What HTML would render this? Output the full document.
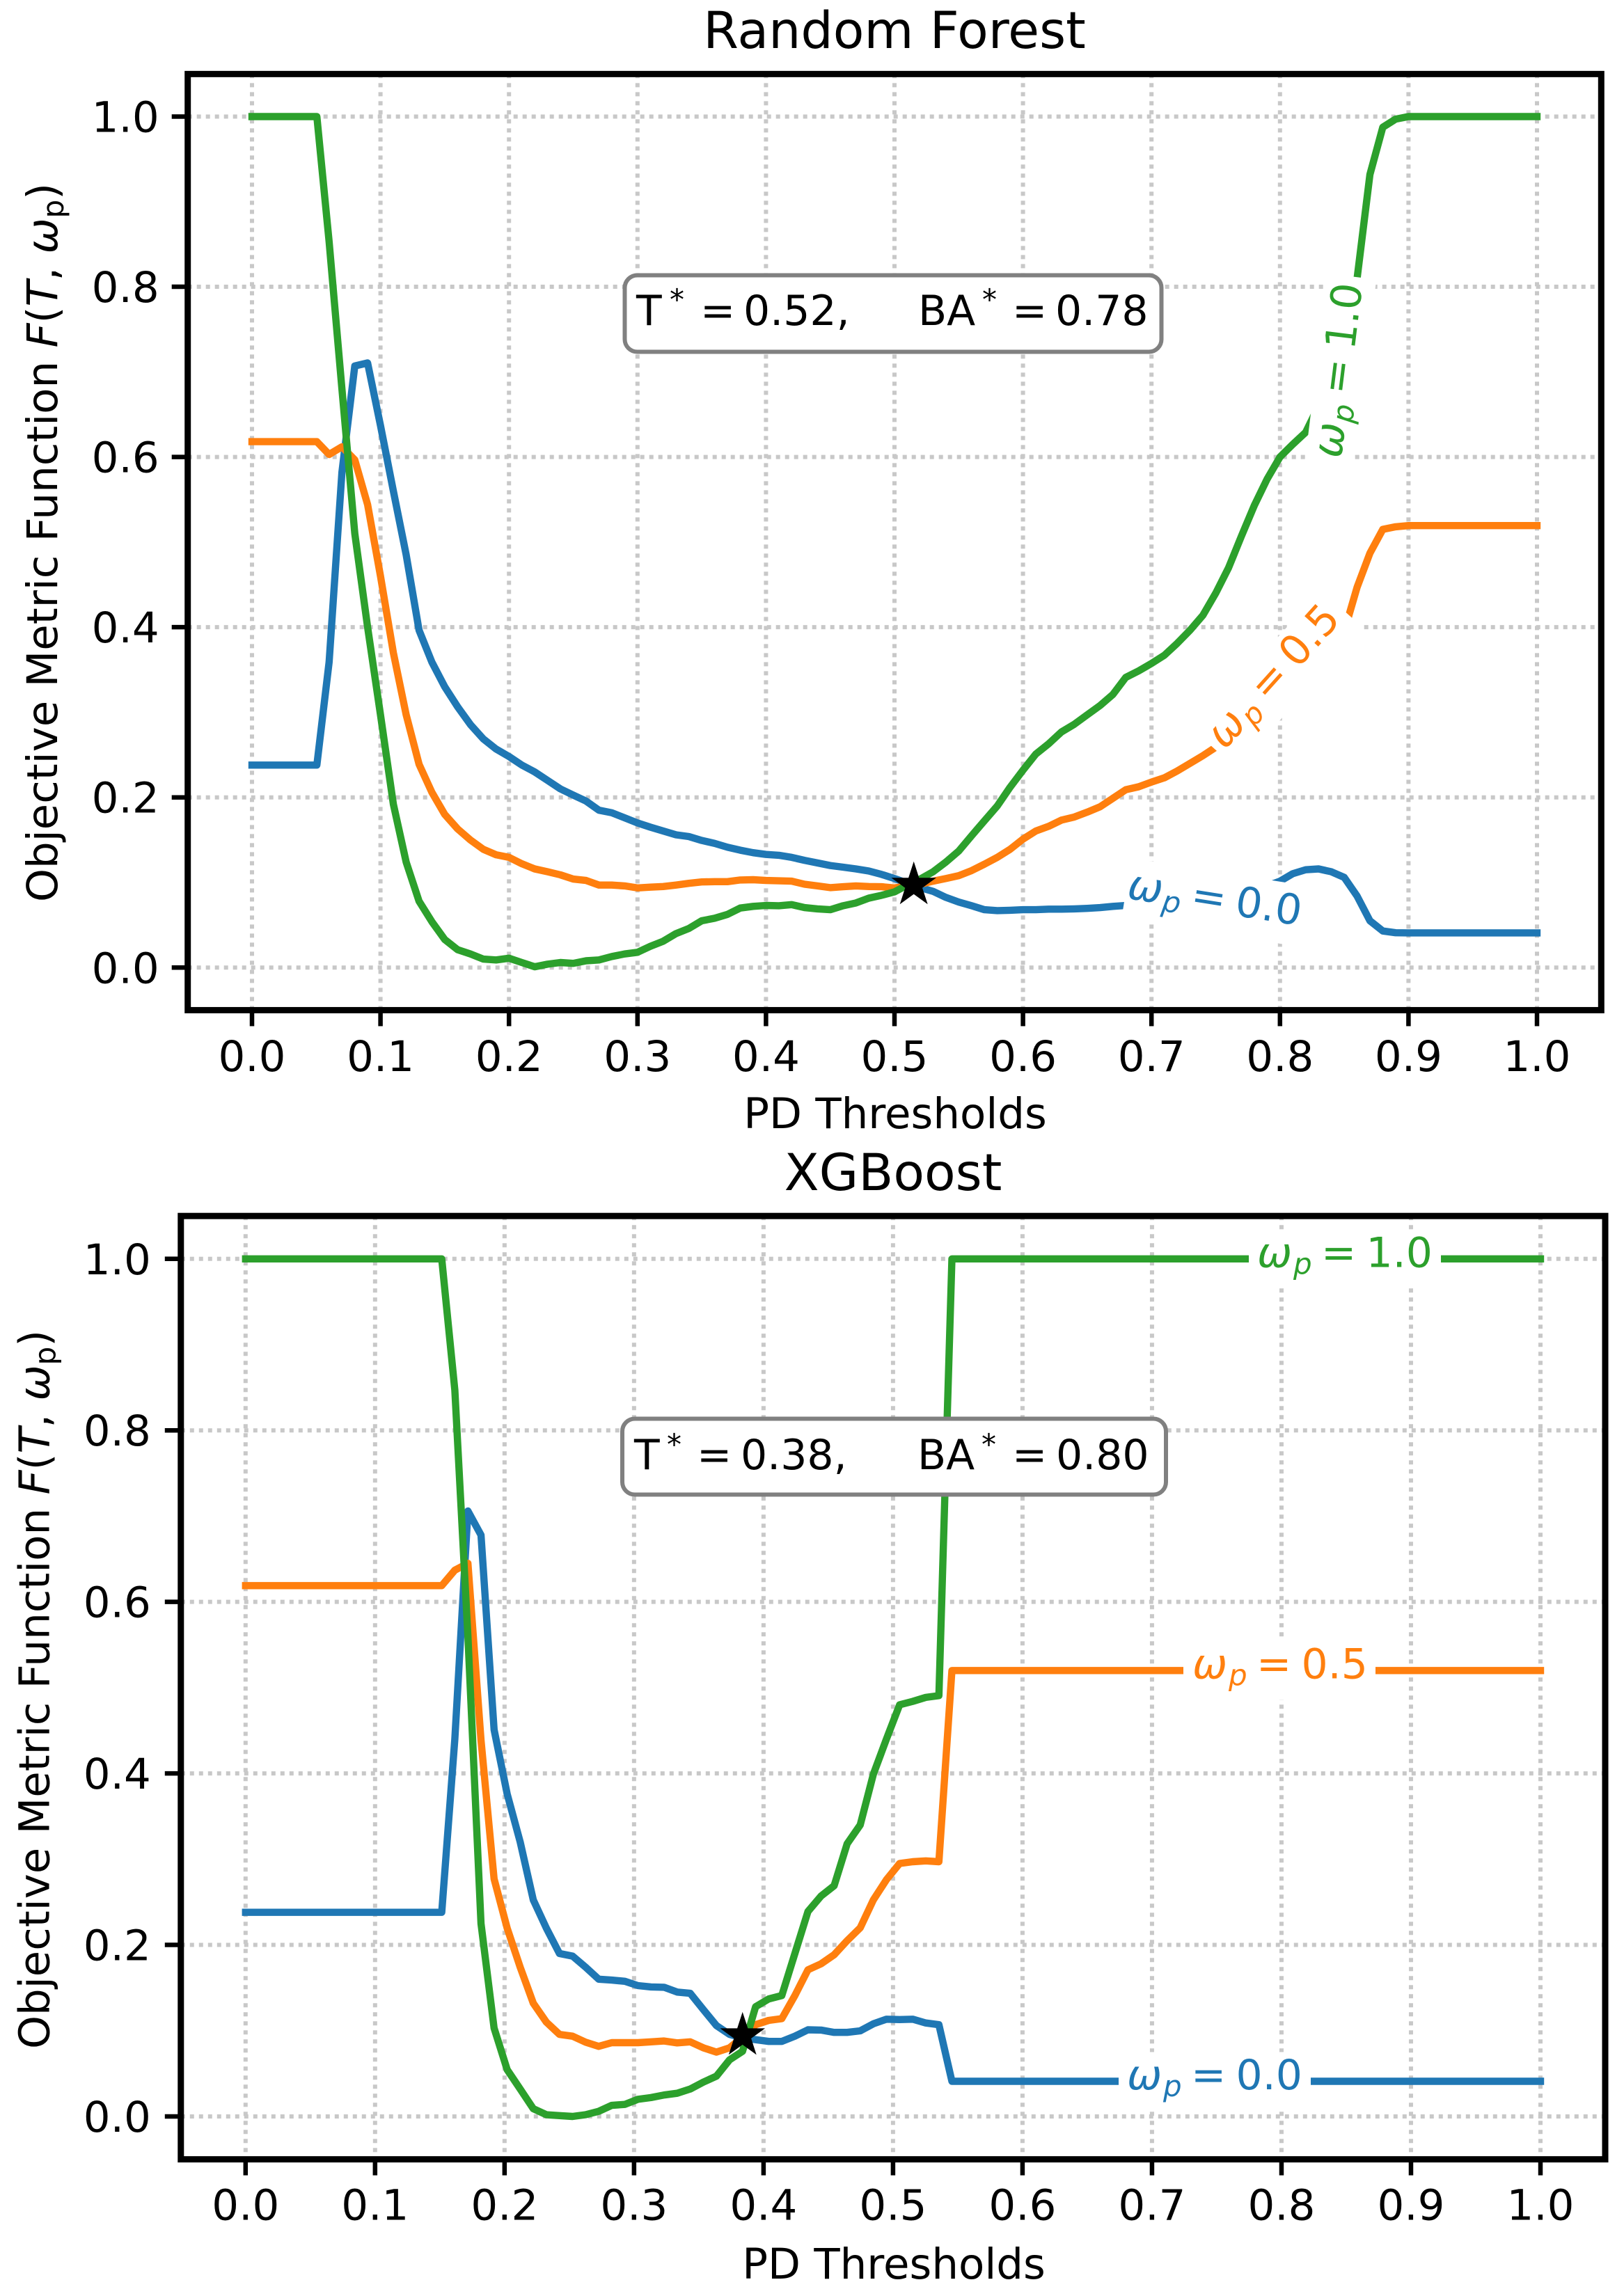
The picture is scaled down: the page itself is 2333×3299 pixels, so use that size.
<!DOCTYPE html>
<html lang="en">
<head>
<meta charset="utf-8">
<title>Objective Metric Function vs PD Thresholds</title>
<style>
html,body{margin:0;padding:0;background:#fff;}
svg{display:block;}
text{font-family:"DejaVu Sans","Liberation Sans",sans-serif;font-size:60px;fill:#000;}
text.axis{font-size:61px;}
.it{font-style:italic;}
.sub{font-size:42px;}
</style>
</head>
<body>
<svg id="figure" xmlns="http://www.w3.org/2000/svg" width="2333" height="3299" viewBox="0 0 2333 3299">
<rect x="0" y="0" width="2333" height="3299" fill="#fff"/>

<!-- Random Forest panel -->
<g id="rf-panel">
  <text x="1285" y="69" text-anchor="middle" style="font-size:73px">Random Forest</text>
  <g id="rf-grid"></g>
  <g id="rf-lines"></g>
  <g id="rf-star"></g>

  <g transform="translate(1745,1299.5) rotate(9)">
    <rect x="-129" y="-47" width="264" height="88" fill="#fff"/>
    <text y="11" style="fill:#1f77b4"><tspan class="it" x="-127">ω</tspan><tspan class="it sub" x="-75" dy="10">p</tspan><tspan x="-35" dy="-10">=</tspan><tspan x="29.5">0.0</tspan></text>
  </g>
  <g transform="translate(1836,976.5) rotate(-48)">
    <rect x="-135" y="-41" width="272" height="82" fill="#fff"/>
    <text y="11" style="fill:#ff7f0e"><tspan class="it" x="-127">ω</tspan><tspan class="it sub" x="-75" dy="10">p</tspan><tspan x="-35" dy="-10">=</tspan><tspan x="29.5">0.5</tspan></text>
  </g>
  <g transform="translate(1931,532) rotate(-83)">
    <rect x="-135" y="-40" width="270" height="70" fill="#fff"/>
    <text y="11" style="fill:#2ca02c"><tspan class="it" x="-127">ω</tspan><tspan class="it sub" x="-75" dy="10">p</tspan><tspan x="-35" dy="-10">=</tspan><tspan x="29.5">1.0</tspan></text>
  </g>

  <rect x="897.5" y="395.5" width="771" height="110" rx="18" ry="18" fill="#fff" stroke="#808080" stroke-width="6"/>
  <text y="467"><tspan x="914">T</tspan><tspan class="sub" x="962" dy="-22">*</tspan><tspan x="1006" dy="22">=</tspan><tspan x="1068">0.52,</tspan><tspan x="1319">BA</tspan><tspan class="sub" x="1411" dy="-22">*</tspan><tspan x="1454" dy="22">=</tspan><tspan x="1516">0.78</tspan></text>

  <g id="rf-axes"></g>
  <text class="axis" x="1286" y="1621" text-anchor="middle">PD Thresholds</text>
  <text class="axis" transform="translate(82,1296) rotate(-90)">Objective Metric Function <tspan class="it">F</tspan>(<tspan class="it">T</tspan>, <tspan class="it">ω</tspan><tspan class="sub" dy="9">p</tspan><tspan dy="-9">)</tspan></text>
</g>

<!-- XGBoost panel -->
<g id="xgb-panel">
  <text x="1283" y="1710" text-anchor="middle" style="font-size:73px">XGBoost</text>
  <g id="xgb-grid"></g>
  <g id="xgb-lines"></g>
  <g id="xgb-star"></g>

  <g transform="translate(1746,2990.5)">
    <rect x="-139" y="-42" width="276" height="84" fill="#fff"/>
    <text y="11.5" style="fill:#1f77b4"><tspan class="it" x="-127">ω</tspan><tspan class="it sub" x="-75" dy="10">p</tspan><tspan x="-35" dy="-10">=</tspan><tspan x="29.5">0.0</tspan></text>
  </g>
  <g transform="translate(1840,2400)">
    <rect x="-140" y="-42" width="276" height="84" fill="#fff"/>
    <text y="11.5" style="fill:#ff7f0e"><tspan class="it" x="-127">ω</tspan><tspan class="it sub" x="-75" dy="10">p</tspan><tspan x="-35" dy="-10">=</tspan><tspan x="29.5">0.5</tspan></text>
  </g>
  <g transform="translate(1933,1808.8)">
    <rect x="-139" y="-42" width="276" height="84" fill="#fff"/>
    <text y="11.5" style="fill:#2ca02c"><tspan class="it" x="-127">ω</tspan><tspan class="it sub" x="-75" dy="10">p</tspan><tspan x="-35" dy="-10">=</tspan><tspan x="29.5">1.0</tspan></text>
  </g>

  <rect x="894" y="2038.5" width="781" height="109" rx="18" ry="18" fill="#fff" stroke="#808080" stroke-width="6"/>
  <text y="2111"><tspan x="911">T</tspan><tspan class="sub" x="958" dy="-21">*</tspan><tspan x="1001" dy="21">=</tspan><tspan x="1064">0.38,</tspan><tspan x="1318">BA</tspan><tspan class="sub" x="1410" dy="-21">*</tspan><tspan x="1454" dy="21">=</tspan><tspan x="1517">0.80</tspan></text>

  <g id="xgb-axes"></g>
  <text class="axis" x="1284" y="3274" text-anchor="middle">PD Thresholds</text>
  <text class="axis" transform="translate(70.4,2944) rotate(-90)">Objective Metric Function <tspan class="it">F</tspan>(<tspan class="it">T</tspan>, <tspan class="it">ω</tspan><tspan class="sub" dy="9">p</tspan><tspan dy="-9">)</tspan></text>
</g>
</svg>

<script>
const xTickValues = [0, 0.1, 0.2, 0.3, 0.4, 0.5, 0.6, 0.7, 0.8, 0.9, 1.0];
const yTickValues = [0, 0.2, 0.4, 0.6, 0.8, 1.0];
const xTickLabels = ['0.0','0.1','0.2','0.3','0.4','0.5','0.6','0.7','0.8','0.9','1.0'];
const yTickLabels = ['0.0','0.2','0.4','0.6','0.8','1.0'];

const rfThresholds = [
0,.01,.02,.03,.04,.0505,.06,.07,.08,.09,
.10,.11,.12,.13,.14,.15,.16,.17,.18,.19,
.20,.21,.22,.23,.24,.25,.26,.27,.28,.29,
.30,.31,.32,.33,.34,.35,.36,.37,.38,.39,
.40,.41,.42,.43,.44,.45,.46,.47,.48,.49,
.50,.51,.52,.53,.54,.55,.56,.57,.58,.59,
.60,.61,.62,.63,.64,.65,.66,.67,.68,.69,
.70,.71,.72,.73,.74,.75,.76,.77,.78,.79,
.80,.81,.82,.83,.84,.85,.86,.87,.88,.89,
.90,.91,.92,.93,.94,.95,.96,.97,.98,.99,1];

const rfWp0 = [
.238,.238,.238,.238,.238,.238,.359,.582,.707,.7105,
.637,.56,.485,.3965,.359,.33,.3064,.2856,.2687,.2568,
.248,.238,.23,.22,.21,.2027,.1956,.185,.182,.176,
.17,.165,.1605,.156,.154,.1494,.146,.1415,.138,.135,
.133,.132,.1295,.126,.123,.12,.118,.116,.1135,.1095,
.1047,.0993,.094,.0896,.0825,.077,.0727,.068,.067,.0674,
.068,.068,.0687,.0687,.069,.0696,.0705,.072,.073,.074,
.075,.076,.077,.078,.079,.08,.082,.085,.09,.096,
.1016,.1104,.115,.116,.1126,.106,.084,.055,.043,.041,
.0408,.0408,.0408,.0408,.0408,.0408,.0408,.0408,.0408,.0408,.0408];

const rfWp05 = [
.618,.618,.618,.618,.618,.618,.603,.612,.5966,.544,
.46,.37,.297,.239,.206,.18,.163,.15,.139,.1326,
.1295,.122,.116,.1126,.109,.104,.1024,.097,.097,.096,
.0936,.0945,.0953,.097,.099,.1007,.101,.101,.103,.1033,
.1024,.102,.1016,.098,.096,.094,.095,.096,.0953,.095,
.0936,.096,.098,.1016,.1047,.108,.114,.1215,.1295,.139,
.151,.1605,.166,.1734,.177,.1827,.189,.199,.209,.2125,
.218,.223,.231,.24,.249,.259,.27,.285,.30,.315,
.33,.345,.36,.375,.388,.395,.447,.487,.515,.518,
.5194,.5194,.5194,.5194,.5194,.5194,.5194,.5194,.5194,.5194,.5194];

const rfWp1 = [
1,1,1,1,1,1,.853,.68,.51,.40,
.297,.192,.124,.078,.054,.033,.021,.016,.010,.009,
.011,.006,.001,.004,.006,.005,.008,.009,.013,.016,
.018,.025,.031,.040,.046,.055,.058,.0625,.070,.072,
.073,.0727,.074,.0705,.069,.068,.0727,.076,.0816,.085,
.089,.097,.104,.1126,.124,.137,.155,.1725,.19,.212,
.232,.251,.263,.277,.286,.297,.308,.321,.341,.3486,
.3574,.367,.381,.3965,.414,.44,.47,.507,.543,.574,
.60,.615,.629,.66,.70,.75,.81,.932,.9875,.997,
1,1,1,1,1,1,1,1,1,1,1];

const rfOptimumT = [0.515];
const rfOptimumF = [0.097];

const xgbThresholds = [
0,.0101,.0202,.0303,.0404,.0505,.0606,.0707,.0808,.0909,
.1010,.1111,.1212,.1313,.1414,.1515,.1616,.1717,.1818,.1919,
.2020,.2121,.2222,.2323,.2424,.2525,.2626,.2727,.2828,.2929,
.3030,.3131,.3232,.3333,.3434,.3535,.3636,.3737,.3838,.3939,
.4040,.4141,.4242,.4343,.4444,.4545,.4646,.4747,.4848,.4949,
.5051,.5152,.5253,.5354,.5455,.5556,.5657,.5758,.5859,.5960,
.6061,.6162,.6263,.6364,.6465,.6566,.6667,.6768,.6869,.6970,
.7071,.7172,.7273,.7374,.7475,.7576,.7677,.7778,.7879,.7980,
.8081,.8182,.8283,.8384,.8485,.8586,.8687,.8788,.8889,.8990,
.9091,.9192,.9293,.9394,.9495,.9596,.9697,.9798,.9899,1];

const xgbWp0 = [
.238,.238,.238,.238,.238,.238,.238,.238,.238,.238,
.238,.238,.238,.238,.238,.238,.44,.706,.678,.451,
.376,.32,.2525,.2195,.19,.187,.174,.16,.159,.1576,
.1526,.151,.1506,.145,.1436,.1246,.106,.0957,.0916,.0895,
.0875,.0875,.0936,.101,.1007,.098,.098,.0998,.108,.1134,
.113,.1134,.109,.107,.041,.041,.041,.041,.041,.041,
.041,.041,.041,.041,.041,.041,.041,.041,.041,.041,
.041,.041,.041,.041,.041,.041,.041,.041,.041,.041,
.041,.041,.041,.041,.041,.041,.041,.041,.041,.041,
.041,.041,.041,.041,.041,.041,.041,.041,.041,.041];

const xgbWp05 = [
.619,.619,.619,.619,.619,.619,.619,.619,.619,.619,
.619,.619,.619,.619,.619,.619,.637,.645,.439,.277,
.2195,.174,.132,.11,.0957,.0936,.0866,.0817,.086,.086,
.086,.087,.088,.0858,.087,.08,.075,.08,.0924,.107,
.112,.114,.141,.171,.178,.1885,.205,.22,.2525,.276,
.295,.297,.298,.297,.52,.52,.52,.52,.52,.52,
.52,.52,.52,.52,.52,.52,.52,.52,.52,.52,
.52,.52,.52,.52,.52,.52,.52,.52,.52,.52,
.52,.52,.52,.52,.52,.52,.52,.52,.52,.52,
.52,.52,.52,.52,.52,.52,.52,.52,.52,.52];

const xgbWp1 = [
1,1,1,1,1,1,1,1,1,1,
1,1,1,1,1,1,.847,.56,.225,.103,
.0545,.032,.009,.002,.001,0,.002,.006,.013,.014,
.02,.022,.025,.027,.032,.04,.047,.066,.076,.128,
.137,.141,.19,.239,.257,.269,.318,.34,.399,.44,
.48,.484,.4886,.4907,1,1,1,1,1,1,
1,1,1,1,1,1,1,1,1,1,
1,1,1,1,1,1,1,1,1,1,
1,1,1,1,1,1,1,1,1,1,
1,1,1,1,1,1,1,1,1,1];

const xgbOptimumT = [0.3838];
const xgbOptimumF = [0.0942];

const SVG_NS = 'http://www.w3.org/2000/svg';
function svgEl(tag, parent) {
  const el = document.createElementNS(SVG_NS, tag);
  parent.appendChild(el);
  return el;
}

function drawPanel(cfg) {
  const xScale = v => cfg.x0 + (cfg.x1 - cfg.x0) * v;
  const yScale = v => cfg.y0 + (cfg.y1 - cfg.y0) * v;
  const left = xScale(-0.05), right = xScale(1.05);
  const top = yScale(1.05), bottom = yScale(-0.05);
  const grid = document.getElementById(cfg.id + '-grid');
  const lines = document.getElementById(cfg.id + '-lines');
  const star = document.getElementById(cfg.id + '-star');
  const axes = document.getElementById(cfg.id + '-axes');

  xTickValues.forEach((v, i) => {
    const g = svgEl('line', grid);
    
    
    g.setAttribute('x1', xScale(v)); g.setAttribute('x2', xScale(v));
    g.setAttribute('y1', top); g.setAttribute('y2', bottom);
    g.setAttribute('stroke', '#c8c8c8'); g.setAttribute('stroke-width', 6);
    g.setAttribute('stroke-dasharray', '6 7');

    const t = svgEl('line', axes);
    
    
    t.setAttribute('x1', xScale(v)); t.setAttribute('x2', xScale(v));
    t.setAttribute('y1', bottom); t.setAttribute('y2', bottom + 23);
    t.setAttribute('stroke', '#000'); t.setAttribute('stroke-width', 6.5);

    const lab = svgEl('text', axes);
    lab.setAttribute('class', 'axis');
    
    
    lab.setAttribute('x', xScale(v)); lab.setAttribute('y', cfg.xTickBase);
    lab.setAttribute('text-anchor', 'middle');
    lab.textContent = xTickLabels[i];
  });

  yTickValues.forEach((v, i) => {
    const g = svgEl('line', grid);
    
    
    g.setAttribute('x1', left); g.setAttribute('x2', right);
    g.setAttribute('y1', yScale(v)); g.setAttribute('y2', yScale(v));
    g.setAttribute('stroke', '#c8c8c8'); g.setAttribute('stroke-width', 6);
    g.setAttribute('stroke-dasharray', '6 7');

    const t = svgEl('line', axes);
    
    
    t.setAttribute('x1', left - 23); t.setAttribute('x2', left);
    t.setAttribute('y1', yScale(v)); t.setAttribute('y2', yScale(v));
    t.setAttribute('stroke', '#000'); t.setAttribute('stroke-width', 6.5);

    const lab = svgEl('text', axes);
    lab.setAttribute('class', 'axis');
    
    
    lab.setAttribute('x', left - cfg.yTickGap); lab.setAttribute('y', yScale(v) + 22);
    lab.setAttribute('text-anchor', 'end');
    lab.textContent = yTickLabels[i];
  });

  cfg.series.forEach(s => {
    const pl = svgEl('polyline', lines);
    
    
    pl.setAttribute('points', s.values.map((v, i) => xScale(cfg.thresholds[i]).toFixed(1) + ',' + yScale(v).toFixed(1)).join(' '));
    pl.setAttribute('fill', 'none');
    pl.setAttribute('stroke', s.color);
    pl.setAttribute('stroke-width', 10.4);
    pl.setAttribute('stroke-linejoin', 'round');
    pl.setAttribute('stroke-linecap', 'square');
  });

  const cx = xScale(cfg.optT[0]), cy = yScale(cfg.optF[0]);
  const R = 34, r = R * 0.381966;
  const pts = [];
  for (let k = 0; k < 10; k++) {
    const a = -Math.PI / 2 + k * Math.PI / 5;
    const rad = k % 2 ? r : R;
    pts.push((cx + rad * Math.cos(a)).toFixed(1) + ',' + (cy + rad * Math.sin(a)).toFixed(1));
  }
  const mark = svgEl('polygon', star);
  
  
  mark.setAttribute('points', pts.join(' '));
  mark.setAttribute('fill', '#000');

  const frame = svgEl('rect', axes);
  
  
  frame.setAttribute('x', left); frame.setAttribute('y', top);
  frame.setAttribute('width', right - left); frame.setAttribute('height', bottom - top);
  frame.setAttribute('fill', 'none');
  frame.setAttribute('stroke', '#000');
  frame.setAttribute('stroke-width', 9);
}

drawPanel({
  id: 'rf', x0: 362, x1: 2208, y0: 1390.3, y1: 167.5, xTickBase: 1539, yTickGap: 41,
  thresholds: rfThresholds, optT: rfOptimumT, optF: rfOptimumF,
  series: [
    {name: 'line-wp-0-random-forest', color: '#1f77b4', values: rfWp0},
    {name: 'line-wp-05-random-forest', color: '#ff7f0e', values: rfWp05},
    {name: 'line-wp-1-random-forest', color: '#2ca02c', values: rfWp1}
  ]
});
drawPanel({
  id: 'xgb', x0: 352.8, x1: 2213, y0: 3041, y1: 1808.8, xTickBase: 3189.5, yTickGap: 43,
  thresholds: xgbThresholds, optT: xgbOptimumT, optF: xgbOptimumF,
  series: [
    {name: 'line-wp-0-xgboost', color: '#1f77b4', values: xgbWp0},
    {name: 'line-wp-05-xgboost', color: '#ff7f0e', values: xgbWp05},
    {name: 'line-wp-1-xgboost', color: '#2ca02c', values: xgbWp1}
  ]
});
</script>
</body>
</html>
